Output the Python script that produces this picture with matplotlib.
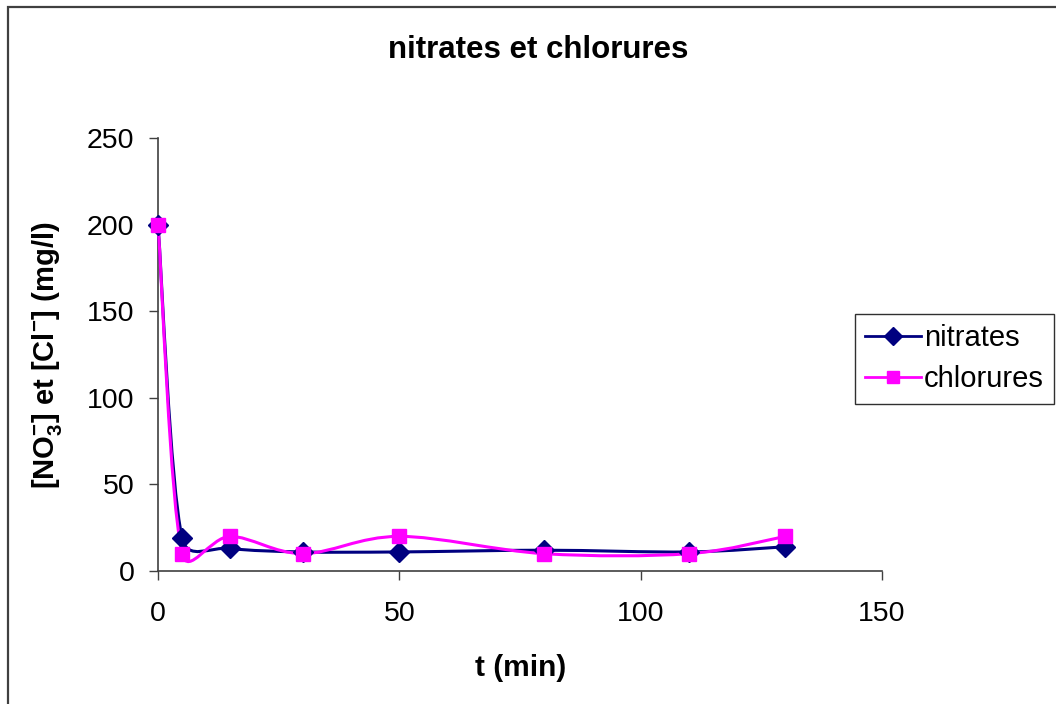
import numpy as np
import matplotlib
matplotlib.use("Agg")
import matplotlib.pyplot as plt
from matplotlib.path import Path
from matplotlib.patches import PathPatch, Rectangle
from matplotlib.lines import Line2D

plt.rcParams['font.family'] = ['Liberation Sans', 'DejaVu Sans']

# Measurements over time
t_min = [0, 5, 15, 30, 50, 80, 110, 130]
nitrates = [200, 19, 13, 11, 11, 12, 11, 14]
chlorures = [200, 10, 20, 10, 20, 10, 10, 20]

x_ticks = [0, 50, 100, 150]
y_ticks = [0, 50, 100, 150, 200, 250]

NAVY = '#000080'
MAGENTA = '#FF00FF'


def smooth_path(ax, xs, ys):
    """Spreadsheet-style smoothed line: cubic Bezier segments built in screen
    space, with control arms capped at half the segment length."""
    p = ax.transData.transform(np.column_stack([xs, ys]).astype(float))
    n = len(p)
    verts = [p[0]]
    codes = [Path.MOVETO]
    f = 1.0 / 6.0
    for i in range(n - 1):
        p0 = p[i - 1] if i > 0 else p[i]
        p1 = p[i]
        p2 = p[i + 1]
        p3 = p[i + 2] if i + 2 < n else p[i + 1]
        d12 = np.hypot(*(p2 - p1))
        d02 = np.hypot(*(p2 - p0))
        d13 = np.hypot(*(p3 - p1))
        a = (p2 - p0) * f
        if d02 * f > d12 / 2 and d02 > 0:
            a = (p2 - p0) * (d12 / 2 / d02)
        b = (p3 - p1) * f
        if d13 * f > d12 / 2 and d13 > 0:
            b = (p3 - p1) * (d12 / 2 / d13)
        verts += [p1 + a, p2 - b, p2]
        codes += [Path.CURVE4] * 3
    verts = ax.transData.inverted().transform(np.array(verts))
    return Path(verts, codes)


W, H = 1056, 704
fig = plt.figure(figsize=(W / 100, H / 100), dpi=100)
ax = fig.add_axes([158 / W, 1 - 571 / H, (882 - 158) / W, (571 - 138) / H])
ax.set_xlim(0, 150)
ax.set_ylim(0, 250)

for ys, col, mk, ms in [(nitrates, NAVY, 'D', 10.5), (chlorures, MAGENTA, 's', 9.5)]:
    ax.add_patch(PathPatch(smooth_path(ax, t_min, ys), facecolor='none', edgecolor=col,
                           lw=2.2, clip_on=False, zorder=3))
    ax.plot(t_min, ys, linestyle='none', marker=mk, markersize=ms, color=col,
            markeredgecolor=col, clip_on=False, zorder=4)

ax.set_xticks(x_ticks)
ax.set_yticks(y_ticks)
ax.tick_params(direction='out', length=6.5, width=1, labelsize=20.5, color='#404040')
ax.tick_params(axis='x', pad=15)
ax.tick_params(axis='y', pad=10.5)
for s in ['top', 'right']:
    ax.spines[s].set_visible(False)
for s in ['left', 'bottom']:
    ax.spines[s].set_color('#404040')
    ax.spines[s].set_linewidth(1.2)

fig.text(521 / W, 1 - 668 / H, 't (min)', fontsize=21.5, fontweight='bold',
         ha='center', va='center')
fig.text(47 / W, 1 - 355 / H,
         r'[NO$_\mathregular{3}^\mathregular{-}$] et [Cl$^\mathregular{-}$] (mg/l)',
         rotation=90, fontsize=21, fontweight='bold', ha='center', va='center')
fig.text(538 / W, 1 - 50 / H, 'nitrates et chlorures', fontsize=22.5,
         fontweight='bold', ha='center', va='center')

# Chart area border
fig.patches.append(Rectangle((8 / W, -0.05), 1.2, 1 - 7 / H + 0.05,
                             transform=fig.transFigure, facecolor='none',
                             edgecolor='#404040', lw=1.6))

handles = [Line2D([], [], color=NAVY, marker='D', markersize=9.5, lw=2.0),
           Line2D([], [], color=MAGENTA, marker='s', markersize=9, lw=2.0)]
leg = fig.legend(handles, ['nitrates', 'chlorures'], loc='upper left',
                 bbox_to_anchor=(855 / W, 1 - 314 / H), fontsize=21,
                 fancybox=False, edgecolor='#303030', framealpha=1,
                 handlelength=1.9, handletextpad=0.12, borderpad=0.35,
                 labelspacing=0.45, borderaxespad=0)
leg.get_frame().set_linewidth(1.0)

fig.savefig('out.png', dpi=100)
